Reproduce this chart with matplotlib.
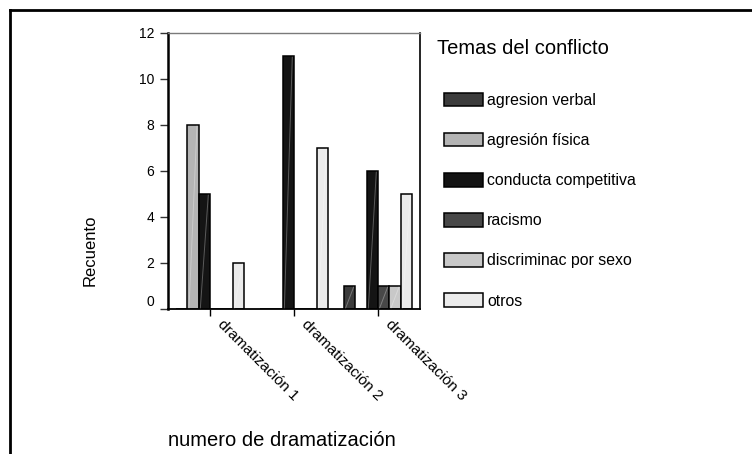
import matplotlib
matplotlib.use("Agg")
import matplotlib.pyplot as plt
import numpy as np
from matplotlib.lines import Line2D
from matplotlib.patches import Patch
from matplotlib.transforms import ScaledTranslation

plt.rcParams['font.family'] = ['Liberation Sans', 'DejaVu Sans']

categories = ["dramatización 1", "dramatización 2", "dramatización 3"]
series = ["agresion verbal", "agresión física", "conducta competitiva",
          "racismo", "discriminac por sexo", "otros"]
agresion_verbal = [0, 0, 1]
agresion_fisica = [8, 0, 0]
conducta_competitiva = [5, 11, 6]
racismo = [0, 0, 1]
discriminac_sexo = [0, 0, 1]
otros = [2, 7, 5]
values = [agresion_verbal, agresion_fisica, conducta_competitiva,
          racismo, discriminac_sexo, otros]
colors = ["#3c3c3c", "#b4b4b4", "#141414", "#484848", "#c8c8c8", "#ebebeb"]
yticks = [0, 2, 4, 6, 8, 10, 12]

fig = plt.figure(figsize=(7.52, 4.54), dpi=100)
ax = fig.add_axes([168/752, 1-309/454, (420-168)/752, (309-33)/454])

x = np.arange(len(categories))
w = 0.135
n = len(series)
for i, (vals, col) in enumerate(zip(values, colors)):
    pos = x + (i - (n-1)/2) * w
    bars = ax.bar(pos, vals, width=w, color=col, edgecolor="black", linewidth=1.1, zorder=2)
    for b in bars:
        h = b.get_height()
        if h > 0:
            bx, bw = b.get_x(), b.get_width()
            ax.plot([bx + 0.15*bw, bx + 0.85*bw], [0.05, h - 0.05], color="white",
                    alpha=0.3, linewidth=0.7, zorder=3)

ax.set_xlim(-0.5, 2.5)
ax.set_ylim(0, 12)
ax.set_yticks(yticks)
ax.set_yticklabels([str(t) for t in yticks], fontsize=10)
ax.set_xticks(x)
ax.set_xticklabels(categories, fontsize=11, rotation=-45, ha="left", va="top",
                   rotation_mode="anchor")
ax.tick_params(axis="y", length=6, width=1, pad=4, color="#333333")
ax.tick_params(axis="x", length=5, width=1, pad=6)

# raise the "0" label as in the reference
lbl0 = ax.get_yticklabels()[0]
lbl0.set_transform(lbl0.get_transform() + ScaledTranslation(0, 8/100, fig.dpi_scale_trans))
for lbl in ax.get_xticklabels():
    lbl.set_transform(lbl.get_transform() + ScaledTranslation(15/100, 7/100, fig.dpi_scale_trans))

ax.spines["left"].set_linewidth(1.8)
ax.spines["bottom"].set_linewidth(1.3)
ax.spines["right"].set_linewidth(1.2)
ax.spines["top"].set_linewidth(1.0)
ax.spines["top"].set_color("#7a7a7a")

fig.text(90/752, 1-250/454, "Recuento", fontsize=12, rotation=90, ha="center", va="center")
fig.text(168/752, 1-441/454, "numero de dramatización", fontsize=14.5, ha="left", va="center")
fig.text(437/752, 1-49/454, "Temas del conflicto", fontsize=14.5, ha="left", va="center")

handles = [Patch(facecolor=c, edgecolor="black", linewidth=1.1) for c in colors]
leg = fig.legend(handles, series, loc="upper left", bbox_to_anchor=(431/752, 1-80/454),
                 frameon=False, fontsize=11.4,
                 handlelength=2.5, handleheight=0.95, handletextpad=0.25,
                 labelspacing=1.57, borderpad=0.3)

# outer frame lines (top and left)
fig.add_artist(Line2D([10/752, 10/752], [0, 1-10/454], color="black", linewidth=2,
                      transform=fig.transFigure))
fig.add_artist(Line2D([10/752, 1], [1-10/454, 1-10/454], color="black", linewidth=2,
                      transform=fig.transFigure))

fig.savefig("out.png", dpi=100)
